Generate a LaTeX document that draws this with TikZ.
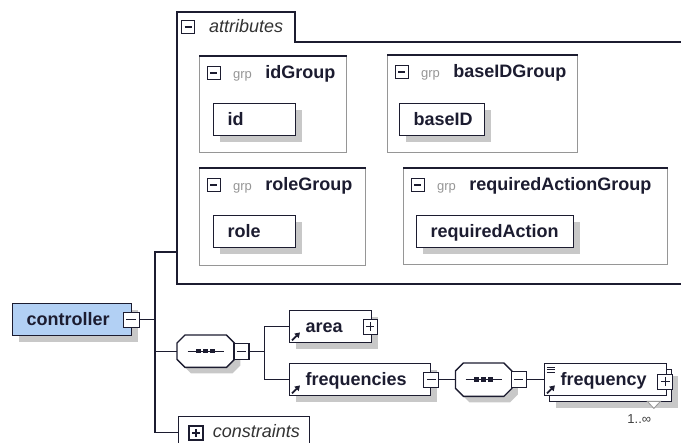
\documentclass[tikz,border=0pt]{standalone}
\usepackage{fontspec}
\newfontfamily\xsfont{Liberation Sans}
\usetikzlibrary{positioning,shadows,arrows.meta,calc}
\definecolor{ink}{RGB}{28,28,48}
\definecolor{ctrlblue}{RGB}{178,208,244}
\definecolor{shade}{RGB}{200,200,200}
\definecolor{grpgray}{RGB}{150,150,150}
% chamfered outline of a sequence compositor node
\newcommand\seqoutline[1]{%
  \draw[seqline] ([xshift=8pt]#1.north west) -- ([xshift=-8pt]#1.north east) -- ([yshift=-8pt]#1.north east)
    -- ([yshift=8pt]#1.south east) -- ([xshift=-8pt]#1.south east) -- ([xshift=8pt]#1.south west)
    -- ([yshift=8pt]#1.south west) -- ([yshift=-8pt]#1.north west) -- cycle;}

\begin{document}
\begin{tikzpicture}[x=1pt, y=-1pt,
  every node/.style={font=\xsfont},
  elembox/.style={draw=ink, fill=white, line width=1.4pt, minimum height=32pt, inner xsep=14pt, inner ysep=0pt,
    align=left, text height=13pt, text depth=2pt, text=ink, font=\xsfont\bfseries\fontsize{18}{20}\selectfont},
  elem/.style={elembox, drop shadow={shadow xshift=6pt, shadow yshift=-6pt, fill=shade, opacity=1}},
  refelem/.style={elem, inner xsep=16pt},
  seqbox/.style={minimum width=57pt, minimum height=32pt, inner sep=0pt},
  seqline/.style={draw=ink, line width=1.4pt, fill=white, drop shadow={shadow xshift=6pt, shadow yshift=-6pt, fill=shade, opacity=1}},
  tog/.style={draw=ink, fill=white, line width=1.1pt, minimum width=15pt, minimum height=15pt, inner sep=0pt},
  togminus/.style={tog, path picture={\draw[line width=1.1pt] ([xshift=3pt]path picture bounding box.west) -- ([xshift=-3pt]path picture bounding box.east);}},
  togplus/.style={tog, path picture={\draw[line width=1.1pt] ([xshift=3pt]path picture bounding box.west) -- ([xshift=-3pt]path picture bounding box.east)
    ([yshift=-3pt]path picture bounding box.north) -- ([yshift=3pt]path picture bounding box.south);}},
  gtog/.style={togminus, minimum width=13pt, minimum height=13pt, line width=0.9pt},
  grpbox/.style={draw=grpgray, line width=1pt, fill=white, anchor=north west, inner sep=0pt},
  grplbl/.style={inner sep=0pt, text=grpgray, font=\xsfont\fontsize{13}{15}\selectfont},
  grpname/.style={inner sep=0pt, text=ink, font=\xsfont\bfseries\fontsize{18}{20}\selectfont},
  ital/.style={inner sep=0pt, text=black!80, font=\xsfont\itshape\fontsize{18}{20}\selectfont},
  frame/.style={draw=ink, line width=1.4pt},
  conn/.style={draw=ink, line width=1.3pt},
  refarrow/.style={-{Triangle[length=5pt,width=6pt]}, line width=1.9pt, ink},
  mult/.style={inner sep=0pt, text=black!75, font=\xsfont\fontsize{13}{15}\selectfont}
]
\useasboundingbox (0,0) rectangle (681,443);

% attributes container
\draw[frame] (681,284) -- (177,284) -- (177,12) -- (295,12) -- (295,42) -- (681,42);
\node[gtog] (attrTog) at (188,27) {};
\node[ital, anchor=base west] (attrLbl) at ($(attrTog.east)+(14,6)$) {attributes};

% attribute groups
\node[grpbox, minimum width=147pt, minimum height=96pt] (idGroup) at (199,56) {};
\node[grpbox, minimum width=190pt, minimum height=97pt] (baseGroup) at (387,55) {};
\node[grpbox, minimum width=166pt, minimum height=97pt] (roleGroup) at (199,168) {};
\node[grpbox, minimum width=264pt, minimum height=96pt] (actGroup) at (403,168) {};
\foreach \g/\t in {idGroup/idGroup, baseGroup/baseIDGroup, roleGroup/roleGroup, actGroup/requiredActionGroup} {
  \draw[frame] (\g.north west) -- (\g.north east);
  \node[gtog, anchor=west] (\g Tog) at ($(\g.north west)+(8,17)$) {};
  \node[grplbl, anchor=base west] (\g Grp) at ($(\g Tog.east)+(12,6)$) {grp};
  \node[grpname, base right=13pt of \g Grp] (\g Name) {\t};
}
\node[elem, text width=54pt, anchor=north west] (id) at ($(idGroup.north west)+(14,47)$) {id};
\node[elem, text width=57pt, anchor=north west] (baseID) at ($(baseGroup.north west)+(12,48)$) {baseID};
\node[elem, text width=54pt, anchor=north west] (role) at ($(roleGroup.north west)+(14,47)$) {role};
\node[elem, text width=129pt, anchor=north west] (reqAction) at ($(actGroup.north west)+(13,47)$) {requiredAction};

% root element
\node[elem, text width=91pt, fill=ctrlblue, anchor=north west] (ctrl) at (12,303) {controller};
\node[togminus, minimum width=16pt] (ctrlTog) at ([xshift=-1pt]ctrl.east) {};

% content model
\node[seqbox, anchor=north west] (seqA) at (177,335) {};
\seqoutline{seqA}
\node[togminus, minimum height=16pt, right=-1pt of seqA] (seqATog) {};
\node[refelem, text width=50pt, anchor=north west] (area) at (289,310) {area};
\node[togplus, minimum width=14pt] (areaTog) at ([xshift=-2pt]area.east) {};
\node[refelem, text width=109pt, anchor=north west] (freqs) at (289,363) {frequencies};
\node[togminus] (freqsTog) at (freqs.east) {};
\node[seqbox, minimum width=56pt, minimum height=33pt, right=16pt of freqsTog] (seqB) {};
\seqoutline{seqB}
\node[togminus, minimum height=16pt, right=-1pt of seqB] (seqBTog) {};
\node[refelem, text width=90pt, right=22pt of seqBTog, yshift=-6pt] (freqBack) {};
\node[elembox, inner xsep=16pt, text width=90pt, right=17pt of seqBTog] (freq) {frequency};
\node[togplus] (freqTog) at ([xshift=-2pt,yshift=-2pt]freq.east) {};
\draw[draw=grpgray, fill=white, line width=0.8pt] ($(freqBack.south east)+(-25,-1)$) -- ($(freqBack.south east)+(-12,-1)$) -- ($(freqBack.south east)+(-18.5,6)$) -- cycle;
\node[mult] (freqMult) at ($(freqBack.south east)+(-33,17)$) {1..∞};
\foreach \i in {0,1,2}
  \draw[line width=0.8pt, ink] ([shift={(3,4+2.6*\i)}]freq.north west) -- ++(8,0);

% constraints
\node[draw=ink, line width=1.4pt, fill=white, minimum width=131pt, minimum height=32pt, anchor=north west] (cons) at (178,416) {};
\node[togplus, minimum width=14pt, minimum height=14pt] (consTog) at ($(cons.north west)+(18,17)$) {};
\node[ital, anchor=base west] (consLbl) at ($(consTog.east)+(9,5)$) {constraints};

% sequence markers
\foreach \s in {seqA, seqB} {
  \draw[line width=1.2pt, ink] ([xshift=-18pt]\s.center) -- ([xshift=18pt]\s.center);
  \foreach \dx in {-7,0,7}
    \fill[ink] ([xshift=\dx pt]\s.center) +(-2.3,-2.3) rectangle +(2.3,2.3);
}

% reference arrows
\foreach \e in {area, freqs, freq}
  \draw[refarrow] ([shift={(3,-3)}]\e.south west) -- ++(8,-8);

% connectors
\coordinate (trunkTop) at (155,252);
\coordinate (attrIn) at (177,252);
\coordinate (brA) at ([xshift=15pt]seqATog.east);
\draw[conn] (ctrlTog.east) -- (ctrlTog.east -| trunkTop);
\draw[conn] (attrIn) -- (trunkTop) |- (cons.west);
\draw[conn] (seqA.west -| trunkTop) -- (seqA.west);
\draw[conn] (seqATog.east) -- (brA);
\draw[conn] (area.west) -| (brA) |- (freqs.west);
\draw[conn] (freqsTog.east) -- (seqB.west);
\draw[conn] (seqBTog.east) -- (freq.west);
\end{tikzpicture}
\end{document}
